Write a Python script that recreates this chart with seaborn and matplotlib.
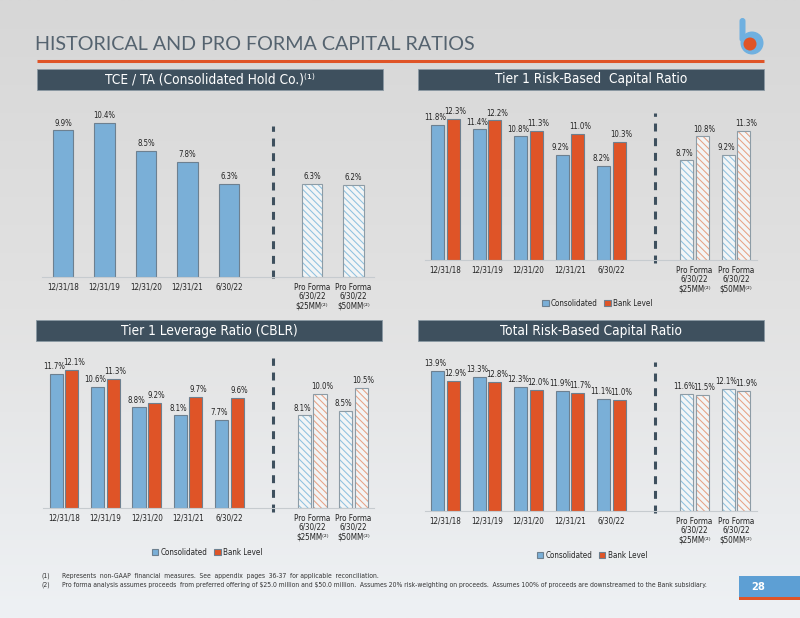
import matplotlib
matplotlib.use("Agg")
import matplotlib.pyplot as plt
import numpy as np
import pandas as pd
import seaborn as sns
from matplotlib import font_manager as fm
from matplotlib.colors import LinearSegmentedColormap
from matplotlib.patches import Rectangle, Circle, FancyBboxPatch

# ---- data ----
periods = ["12/31/18", "12/31/19", "12/31/20", "12/31/21", "6/30/22"]
pro_forma = ["Pro Forma\n6/30/22\n$25MM⁽²⁾", "Pro Forma\n6/30/22\n$50MM⁽²⁾"]
series = ["Consolidated", "Bank Level"]

tce_ta = [9.9, 10.4, 8.5, 7.8, 6.3]
tce_ta_pf = [6.3, 6.2]

t1_rb_cons = [11.8, 11.4, 10.8, 9.2, 8.2]
t1_rb_bank = [12.3, 12.2, 11.3, 11.0, 10.3]
t1_rb_pf_cons = [8.7, 9.2]
t1_rb_pf_bank = [10.8, 11.3]

lev_cons = [11.7, 10.6, 8.8, 8.1, 7.7]
lev_bank = [12.1, 11.3, 9.2, 9.7, 9.6]
lev_pf_cons = [8.1, 8.5]
lev_pf_bank = [10.0, 10.5]

tot_cons = [13.9, 13.3, 12.3, 11.9, 11.1]
tot_bank = [12.9, 12.8, 12.0, 11.7, 11.0]
tot_pf_cons = [11.6, 12.1]
tot_pf_bank = [11.5, 11.9]

titles = ["TCE / TA (Consolidated Hold Co.)⁽¹⁾", "Tier 1 Risk-Based  Capital Ratio",
          "Tier 1 Leverage Ratio (CBLR)", "Total Risk-Based Capital Ratio"]
footnotes = [
    ("(1)", "Represents  non-GAAP  financial  measures.  See  appendix  pages  36-37  for applicable  reconciliation."),
    ("(2)", "Pro forma analysis assumes proceeds  from preferred offering of $25.0 million and $50.0 million.  "
            "Assumes 20% risk-weighting on proceeds.  Assumes 100% of proceeds are downstreamed to the Bank subsidiary."),
]

BLUE = "#7aafd7"
ORANGE = "#df5427"
EDGE = "#6d8090"
HEADER = "#3e505e"
HATCH_COL = ["#8fc1df", "#e8a285"]
order = periods + [" "] + pro_forma

# pick the narrowest sans available (the slide uses a condensed face)
_avail = {(f.name, f.stretch) for f in fm.fontManager.ttflist}
_names = {n for n, s in _avail}
if "Liberation Sans Narrow" in _names:
    NARROW, STRETCH, SCALE = "Liberation Sans Narrow", "normal", 1.0
elif ("DejaVu Sans", "condensed") in _avail:
    NARROW, STRETCH, SCALE = "DejaVu Sans", "condensed", 0.92
elif "DejaVu Sans Condensed" in _names:
    NARROW, STRETCH, SCALE = "DejaVu Sans Condensed", "normal", 0.92
else:
    NARROW, STRETCH, SCALE = "Liberation Sans", "normal", 0.83

sns.set_style("white")
plt.rcParams["font.family"] = [NARROW, "DejaVu Sans"]
plt.rcParams["font.stretch"] = STRETCH
plt.rcParams["hatch.linewidth"] = 0.75

FS_VAL = 6.1 * SCALE
FS_TICK = 6.3 * SCALE
FS_HEAD = 10.7 * SCALE
FS_NOTE = 5.3 * SCALE

W, H = 800, 618
fig = plt.figure(figsize=(8, 6.18), dpi=100)
fig.patch.set_facecolor("#e4e4e4")

# background + slide decorations in pixel coords
bg = fig.add_axes([0, 0, 1, 1], zorder=-5)
grad = np.linspace(0, 1, 256)[:, None]
cmap = LinearSegmentedColormap.from_list("bg", ["#d7d7d7", "#e2e2e2", "#eef1f4"])
bg.imshow(grad, extent=(0, W, H, 0), aspect="auto", cmap=cmap)
bg.set_xlim(0, W)
bg.set_ylim(H, 0)
bg.axis("off")

bg.text(35, 44, "HISTORICAL AND PRO FORMA CAPITAL RATIOS", fontsize=14.2, color="#55636f",
        family=["Lato", "DejaVu Sans"], fontweight="normal", fontstretch="normal",
        va="center", ha="left")
bg.plot([37, 764], [61, 61], color=ORANGE, lw=2.2, solid_capstyle="butt")

for (x0, y0), t in zip([(37, 69), (418, 69), (36, 320), (418, 320)], titles):
    bg.add_patch(Rectangle((x0, y0), 346, 21, facecolor=HEADER, edgecolor="#8a98a3", lw=0.6))
    bg.text(x0 + 173, y0 + 10.5, t, color="white", fontsize=FS_HEAD, ha="center", va="center")

# logo
bg.add_patch(FancyBboxPatch((739.5, 18), 6, 24, boxstyle="round,pad=0,rounding_size=3",
                            facecolor="#6fb0e0", edgecolor="none"))
bg.add_patch(Circle((752, 43), 11.5, facecolor="#6fb0e0", edgecolor="none"))
bg.add_patch(Circle((750, 44), 6.5, facecolor=ORANGE, edgecolor="none"))

# page number
bg.add_patch(Rectangle((739, 576), 61, 21, facecolor="#5d9fd4", edgecolor="none"))
bg.add_patch(Rectangle((739, 597), 61, 3, facecolor=ORANGE, edgecolor="none"))
bg.text(758, 587, "28", color="white", fontsize=8, fontweight="bold", ha="center", va="center")

for i, (num, txt) in enumerate(footnotes):
    bg.text(42, 576 + i * 8.5, num, fontsize=FS_NOTE, color="#333", va="center", parse_math=False)
    bg.text(62, 576 + i * 8.5, txt, fontsize=FS_NOTE, color="#333", va="center", parse_math=False)


def px_axes(left, top, width, bottom):
    return fig.add_axes([left / W, 1 - bottom / H, width / W, (bottom - top) / H])


def two_series(cons, bank, pf_cons, pf_bank):
    cats = periods + pro_forma
    return pd.DataFrame({
        "period": cats * 2,
        "series": [series[0]] * len(cats) + [series[1]] * len(cats),
        "value": cons + pf_cons + bank + pf_bank,
    })


def style_panel(ax, ymax, vmin, vmax):
    ax.set_xlim(-0.5, 7.5)
    ax.set_ylim(0, ymax)
    ax.set_xlabel("")
    ax.set_ylabel("")
    ax.set_yticks([])
    ax.patch.set_alpha(0)
    for s in ["top", "right", "left"]:
        ax.spines[s].set_visible(False)
    ax.spines["bottom"].set_color("#c6cbcf")
    ax.spines["bottom"].set_linewidth(0.8)
    ax.tick_params(axis="x", length=0, pad=4, labelsize=FS_TICK, colors="#222")
    for lab in ax.get_xticklabels():
        lab.set_linespacing(1.05)
    nser = len(ax.containers)
    # hatch the pro forma bars
    for ci, cont in enumerate(ax.containers):
        for bar in cont:
            if bar.get_x() + bar.get_width() / 2 > 5:
                bar.set_facecolor("#f3f5f6")
                bar.set_edgecolor(HATCH_COL[ci])
                bar.set_hatch("\\\\\\\\\\")
                bar.set_linewidth(0)
                ax.add_patch(Rectangle((bar.get_x(), bar.get_y()), bar.get_width(), bar.get_height(),
                                       fill=False, edgecolor="#8d9ca6", lw=0.8, zorder=3))
        labels = ax.bar_label(cont, fmt="%.1f%%", padding=2, fontsize=FS_VAL, color="#222")
        if nser == 2:
            shift = -1.6 if ci == 0 else 1.6
            for lab in labels:
                lab.xyann = (shift, 2)
    ax.axvline(5.05, vmin, vmax, color=HEADER, lw=2.2, dashes=(2.6, 2.2), clip_on=False)


# TCE / TA
ax1 = px_axes(42.25, 108, 332, 277)
df1 = pd.DataFrame({"period": periods + pro_forma, "value": tce_ta + tce_ta_pf})
sns.barplot(data=df1, x="period", y="value", order=order, color=BLUE, width=0.5,
            edgecolor=EDGE, linewidth=0.8, saturation=1, ax=ax1)
style_panel(ax1, 169 / 14.8, -0.006, 0.893)

# two-series panels
panels = [
    (px_axes(424.75, 108, 332, 260), two_series(t1_rb_cons, t1_rb_bank, t1_rb_pf_cons, t1_rb_pf_bank),
     152 / 11.45, (-0.02, 0.97), (0.52, -0.283)),
    (px_axes(43.3, 355, 331, 508), two_series(lev_cons, lev_bank, lev_pf_cons, lev_pf_bank),
     153 / 11.43, (-0.026, 0.98), (0.495, -0.288)),
    (px_axes(424.75, 358, 332, 511), two_series(tot_cons, tot_bank, tot_pf_cons, tot_pf_bank),
     153 / 10.07, (-0.013, 0.974), (0.503, -0.288)),
]
for ax, df, ymax, (v0, v1), leg in panels:
    sns.barplot(data=df, x="period", y="value", hue="series", order=order, hue_order=series,
                palette=[BLUE, ORANGE], width=0.75, gap=0.15, edgecolor=EDGE, linewidth=0.8,
                saturation=1, ax=ax)
    style_panel(ax, ymax, v0, v1)
    sns.move_legend(ax, "center", bbox_to_anchor=leg, ncol=2, frameon=False, title=None,
                    fontsize=FS_TICK, handlelength=0.8, handleheight=0.8, handletextpad=0.3,
                    columnspacing=0.8)

fig.savefig("out.png", dpi=100, facecolor=fig.get_facecolor())
